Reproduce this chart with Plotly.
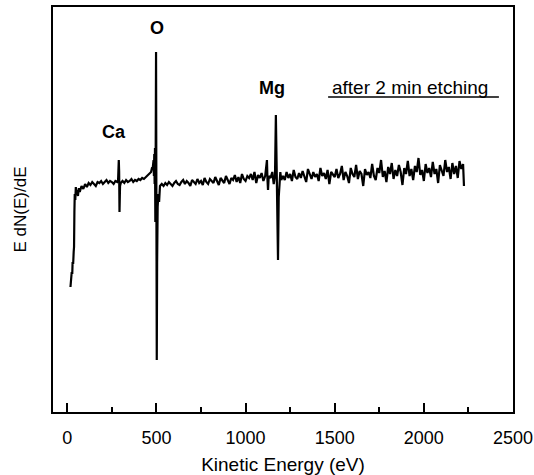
import plotly.graph_objects as go

# Kinetic energy (eV) and E dN(E)/dE (arbitrary units)
energy_start = [18, 20, 22, 25, 28, 30, 33, 36, 38, 40, 42, 45, 48, 50, 55, 60, 65, 70]
signal_start = [125, 132, 128, 140, 138, 150, 148, 160, 165, 200, 218, 212, 225, 219, 222, 216, 224, 220]

energy_b = list(range(80, 281, 10))
signal_b = [226, 223, 228, 225, 229, 227, 230, 228, 226, 230, 229, 231, 228, 230, 232, 229, 231, 230, 228, 231, 230]

energy_ca = [285, 289, 291, 293, 296, 300]
signal_ca = [232, 252, 240, 200, 226, 229]

energy_c = list(range(310, 471, 10))
signal_c = [231, 229, 232, 230, 231, 233, 230, 232, 231, 233, 232, 234, 233, 235, 236, 238, 240]

energy_o = [475, 480, 484, 486, 488, 490, 492, 494, 496, 498, 500, 502, 504, 507, 511, 515, 520]
signal_o = [244, 245, 252, 236, 258, 228, 264, 190, 262, 360, 200, 52, 150, 205, 218, 210, 226]

energy_d = list(range(530, 1111, 10))
signal_d = [228, 226, 229, 227, 230, 228, 226, 229, 231, 228,
            227, 230, 232, 228, 231, 229, 226, 232, 230, 228,
            233, 229, 231, 227, 234, 230, 228, 233, 231, 229,
            235, 230, 227, 234, 232, 229, 236, 231, 228, 234,
            232, 237, 230, 235, 229, 238, 233, 231, 236, 234,
            238, 232, 240, 229, 237, 234, 239, 231, 236]

energy_mg = [1115, 1120, 1123, 1126, 1130, 1140, 1150, 1158, 1165, 1170, 1174, 1178, 1182, 1186, 1190, 1195, 1200]
signal_mg = [244, 252, 232, 222, 236, 234, 240, 228, 236, 297, 250, 200, 152, 215, 228, 240, 232]

energy_e = list(range(1210, 2221, 10)) + [2225]
signal_e = [236, 232, 240, 234, 238, 231, 242, 235, 233, 239,
            234, 241, 236, 230, 243, 237, 233, 240, 235, 238,
            231, 244, 236, 239, 233, 242, 228, 240, 237, 235,
            243, 234, 238, 246, 232, 240, 236, 229, 244, 238,
            235, 247, 233, 241, 238, 226, 243, 237, 240, 234,
            248, 236, 232, 244, 239, 252, 235, 241, 230, 245,
            238, 249, 233, 242, 236, 247, 240, 227, 244, 238,
            251, 236, 243, 232, 246, 240, 254, 237, 242, 231,
            248, 239, 244, 235, 250, 238, 243, 229, 247, 241,
            236, 252, 240, 245, 233, 249, 238, 246, 234, 251,
            243, 248, 226]

energy = energy_start + energy_b + energy_ca + energy_c + energy_o + energy_d + energy_mg + energy_e
signal = signal_start + signal_b + signal_ca + signal_c + signal_o + signal_d + signal_mg + signal_e

x_ticks = [0, 500, 1000, 1500, 2000, 2500]

# peak labels: (text, energy, height)
peak_labels = ["O", "Ca", "Mg"]
peak_x = [503, 262, 1148]
peak_y = [384, 280, 324]

FONT = "Liberation Sans, Arial, sans-serif"

fig = go.Figure()
fig.add_trace(go.Scatter(x=energy, y=signal, mode="lines",
                         line=dict(color="black", width=2.2), showlegend=False,
                         hoverinfo="skip"))

for t, xv, yv in zip(peak_labels, peak_x, peak_y):
    fig.add_annotation(x=xv, y=yv, xref="x", yref="y", text="<b>%s</b>" % t,
                       showarrow=False, font=dict(family=FONT, size=18, color="black"))

fig.add_annotation(x=1922, y=325, xref="x", yref="y", text="after 2 min etching",
                   showarrow=False, font=dict(family=FONT, size=19, color="black"))
fig.add_shape(type="line", xref="x", yref="y", x0=1463, x1=2421, y0=315, y1=315,
              line=dict(color="black", width=1.5))

fig.update_layout(
    width=534, height=475,
    margin=dict(l=53, r=21, t=7, b=63),
    paper_bgcolor="white", plot_bgcolor="white",
    font=dict(family=FONT, size=19, color="black"),
)
fig.update_xaxes(
    range=[-80, 2500], tickvals=x_ticks, ticks="inside", ticklen=9, tickwidth=2,
    tickcolor="black", showline=True, linecolor="black", linewidth=2, mirror=True,
    showgrid=False, zeroline=False, ticklabelstandoff=8, automargin=False,
    ticklabeloverflow="allow", tickfont=dict(size=18),
    minor=dict(tickvals=[250, 750, 1250, 1750, 2250], ticks="inside", ticklen=5,
               tickwidth=2, tickcolor="black"),
    title=dict(text="Kinetic Energy (eV)", font=dict(size=19), standoff=15),
)
fig.update_yaxes(
    range=[0, 405], showticklabels=False, ticks="", showline=True, linecolor="black",
    linewidth=2, mirror=True, showgrid=False, zeroline=False, automargin=False,
    title=dict(text="E dN(E)/dE", font=dict(size=17), standoff=20),
)

fig.write_html("out.html", config={"displayModeBar": False},
               post_script="document.body.style.margin='0';")
